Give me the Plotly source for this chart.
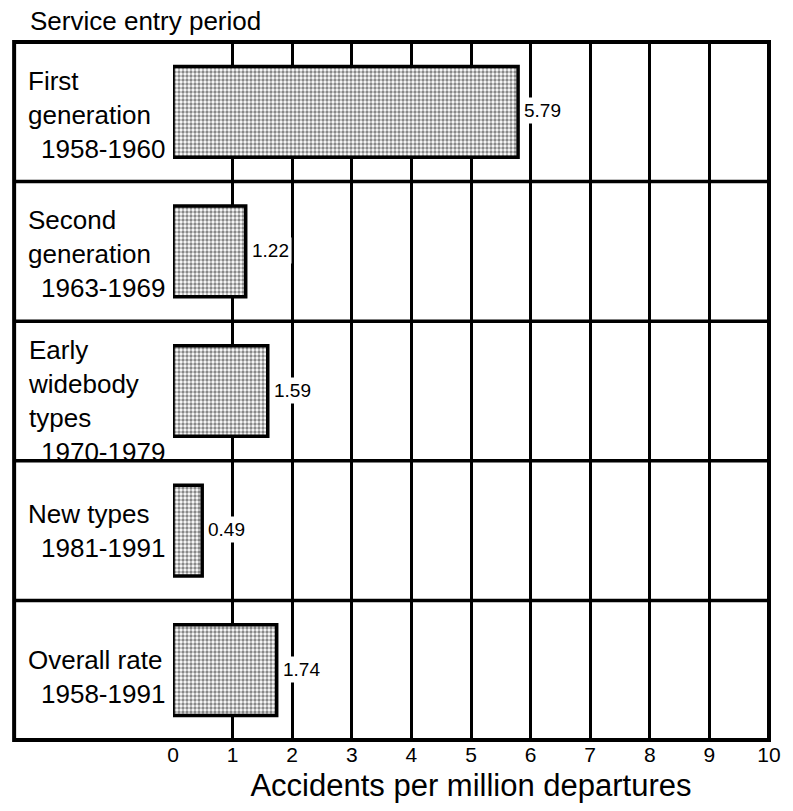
import plotly.graph_objects as go

# ---- data ----
category_names = [
    "First<br>generation",
    "Second<br>generation",
    "Early<br>widebody<br>types",
    "New types",
    "Overall rate",
]
category_years = ["1958-1960", "1963-1969", "1970-1979", "1981-1991", "1958-1991"]
rates = [5.79, 1.22, 1.59, 0.49, 1.74]
value_labels = ["5.79", "1.22", "1.59", "0.49", "1.74"]
x_ticks = [0, 1, 2, 3, 4, 5, 6, 7, 8, 9, 10]
x_title = "Accidents per million departures"
y_title = "Service entry period"

# ---- geometry / style (screen pixels) ----
W, H = 793, 811
PL, PR, PT, PB = 173, 777, 42, 740        # plot area on screen
BOX_LEFT = 12                             # left edge of the category column
FONT = "Liberation Sans, Arial, sans-serif"
label_shift = [-20, -20, -44, 0, -7]      # vertical nudges for category text

def px_to_paper_x(px):
    return (px - PL) / (PR - PL)

cats = [str(i) for i in range(len(rates))]

fig = go.Figure()
fig.add_trace(go.Bar(
    x=rates,
    y=cats,
    orientation="h",
    width=0.65,
    marker=dict(
        color="#ffffff",
        line=dict(color="black", width=3.5),
        pattern=dict(shape=".", fgcolor="#111111", bgcolor="#ffffff",
                     size=4, solidity=0.55, fillmode="overlay"),
    ),
    hoverinfo="skip",
))

annotations = []
# value labels
for c, v, t in zip(cats, rates, value_labels):
    annotations.append(dict(
        x=v, y=c, xref="x", yref="y", text=t, showarrow=False,
        xanchor="left", yanchor="middle", xshift=3, yshift=1,
        bgcolor="white", borderpad=2,
        font=dict(family=FONT, size=19, color="black"),
    ))
# category labels
for c, name, yr, sh in zip(cats, category_names, category_years, label_shift):
    annotations.append(dict(
        x=px_to_paper_x(24), y=c, xref="paper", yref="y", text=name,
        showarrow=False, xanchor="left", yanchor="bottom", align="left",
        yshift=sh, font=dict(family=FONT, size=26, color="black"),
    ))
    annotations.append(dict(
        x=px_to_paper_x(167), y=c, xref="paper", yref="y", text=yr,
        showarrow=False, xanchor="right", yanchor="top", align="right",
        yshift=sh, font=dict(family=FONT, size=26, color="black"),
    ))
# header
annotations.append(dict(
    x=px_to_paper_x(26), y=1, xref="paper", yref="paper", text=y_title,
    showarrow=False, xanchor="left", yanchor="bottom", yshift=4,
    font=dict(family=FONT, size=26, color="black"),
))

shapes = []
# row separators
for i in range(len(rates) - 1):
    shapes.append(dict(
        type="line", xref="paper", yref="y",
        x0=px_to_paper_x(BOX_LEFT), x1=1, y0=i + 0.5, y1=i + 0.5,
        line=dict(color="black", width=3.5), layer="above",
    ))
# outer frame
shapes.append(dict(
    type="rect", xref="paper", yref="paper",
    x0=px_to_paper_x(BOX_LEFT), x1=1, y0=0, y1=1,
    line=dict(color="black", width=4), layer="above",
))

fig.update_layout(
    width=W, height=H,
    margin=dict(l=PL, r=W - PR, t=PT, b=H - PB),
    paper_bgcolor="white", plot_bgcolor="white",
    showlegend=False,
    font=dict(family=FONT, color="black"),
    annotations=annotations,
    shapes=shapes,
    xaxis=dict(
        range=[0, 10], tickvals=x_ticks, ticktext=[str(t) for t in x_ticks],
        showgrid=True, gridcolor="black", gridwidth=3,
        zeroline=False, showline=False, ticks="",
        tickfont=dict(family=FONT, size=21, color="black"),
        title=dict(text=x_title, font=dict(family=FONT, size=31, color="black"),
                   standoff=9),
        fixedrange=True,
    ),
    yaxis=dict(
        range=[len(rates) - 0.5, -0.5], showticklabels=False,
        showgrid=False, zeroline=False, showline=False, ticks="",
        fixedrange=True,
    ),
)

fig.write_html(
    "out.html",
    config={"displayModeBar": False},
    post_script="document.body.style.margin='0';document.body.style.overflow='hidden';",
)
